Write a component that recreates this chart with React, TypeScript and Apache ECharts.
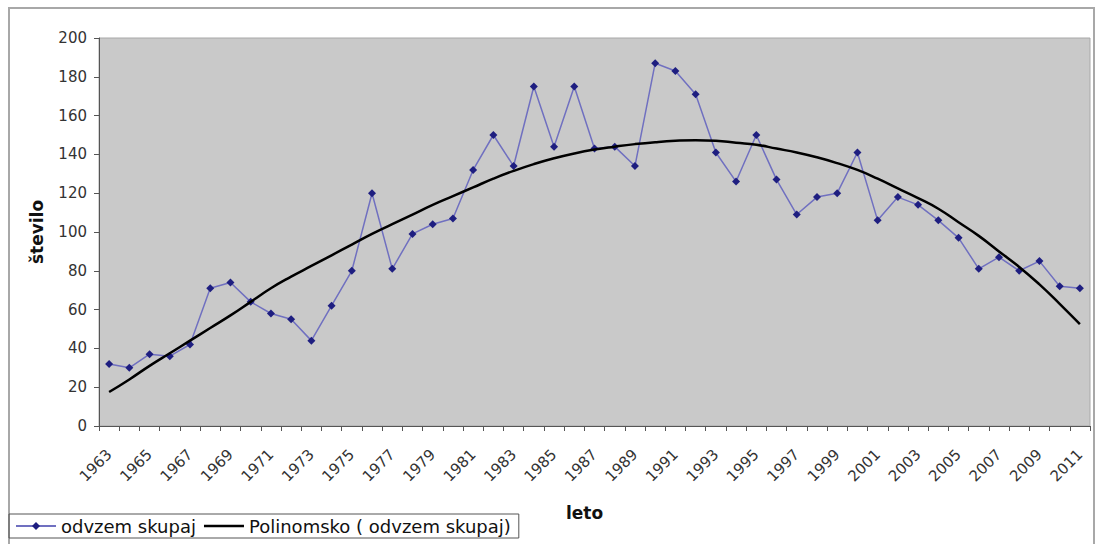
import React, { useEffect, useRef } from "react";
import * as echarts from "echarts";

const years = [
  "1963", "1964", "1965", "1966", "1967", "1968", "1969", "1970", "1971", "1972",
  "1973", "1974", "1975", "1976", "1977", "1978", "1979", "1980", "1981", "1982",
  "1983", "1984", "1985", "1986", "1987", "1988", "1989", "1990", "1991", "1992",
  "1993", "1994", "1995", "1996", "1997", "1998", "1999", "2000", "2001", "2002",
  "2003", "2004", "2005", "2006", "2007", "2008", "2009", "2010", "2011",
];

const odvzemSkupaj = [
  32, 30, 37, 36, 42, 71, 74, 64, 58, 55,
  44, 62, 80, 120, 81, 99, 104, 107, 132, 150,
  134, 175, 144, 175, 143, 144, 134, 187, 183, 171,
  141, 126, 150, 127, 109, 118, 120, 141, 106, 118,
  114, 106, 97, 81, 87, 80, 85, 72, 71,
];

const polinomsko = [
  17.5, 24, 31, 37.5, 44, 50.5, 57, 64, 71, 77,
  82.5, 88, 93.5, 99, 104, 109, 114, 118.5, 123, 127.5,
  131.5, 135, 138, 140.5, 142.5, 144, 145.3, 146.3, 147, 147.3,
  147, 146, 145, 143, 141, 138.5, 135.5, 132, 127.5, 122.5,
  117.5, 112, 105, 98, 90, 82, 73, 63, 52.5,
];

const yTicks = { min: 0, max: 200, interval: 20 };

const FONT = "DejaVu Sans";

export default function App() {
  const ref = useRef<HTMLDivElement>(null);
  useEffect(() => {
    if (!ref.current) return;
    const chart = echarts.init(ref.current, null, { renderer: "svg" });
    chart.setOption({
      animation: false,
      backgroundColor: "#ffffff",
      graphic: [
        {
          type: "rect",
          shape: { x: 9, y: 8, width: 1085, height: 560 },
          style: { fill: "none", stroke: "#a8a8a8", lineWidth: 2 },
          z: -1,
        },
      ],
      grid: {
        left: 99,
        top: 38,
        right: 6,
        bottom: 118,
        show: true,
        backgroundColor: "#c9c9c9",
        borderColor: "#a8a8a8",
        borderWidth: 1,
      },
      legend: {
        left: 9,
        top: 514,
        orient: "horizontal",
        borderColor: "#555555",
        borderWidth: 1,
        padding: [3, 8, 3, 6],
        itemGap: 8,
        itemWidth: 40,
        itemHeight: 10,
        textStyle: { fontFamily: FONT, fontSize: 18, color: "#111111" },
        data: [
          { name: "odvzem skupaj" },
          {
            name: "Polinomsko ( odvzem skupaj)",
            icon: "path://M0,0 M0,10 M0,3.8 L40,3.8 L40,6.2 L0,6.2 Z",
          },
        ],
      },
      xAxis: {
        type: "category",
        data: years,
        boundaryGap: true,
        name: "leto",
        nameLocation: "middle",
        nameGap: 78,
        nameTextStyle: {
          fontFamily: FONT,
          fontSize: 17,
          fontWeight: "bold",
          color: "#111111",
          padding: [0, 20, 0, 0],
        },
        axisLine: { lineStyle: { color: "#555555", width: 1 } },
        axisTick: { show: true, interval: 0, length: 5, lineStyle: { color: "#555555" } },
        axisLabel: {
          interval: 1,
          rotate: 45,
          margin: 26,
          fontFamily: FONT,
          fontSize: 15,
          color: "#333333",
        },
        splitLine: { show: false },
      },
      yAxis: {
        type: "value",
        min: yTicks.min,
        max: yTicks.max,
        interval: yTicks.interval,
        name: "število",
        nameLocation: "middle",
        nameGap: 54,
        nameRotate: 90,
        nameTextStyle: { fontFamily: FONT, fontSize: 17, fontWeight: "bold", color: "#111111" },
        axisLine: { show: true, lineStyle: { color: "#555555", width: 1 } },
        axisTick: { show: true, length: 5, lineStyle: { color: "#555555" } },
        axisLabel: { margin: 12, fontFamily: FONT, fontSize: 15, color: "#333333" },
        splitLine: { show: false },
      },
      series: [
        {
          name: "odvzem skupaj",
          type: "line",
          data: odvzemSkupaj,
          symbol: "diamond",
          symbolSize: 8,
          itemStyle: { color: "#1e1e80" },
          lineStyle: { color: "#7070c0", width: 1.5 },
          z: 2,
        },
        {
          name: "Polinomsko ( odvzem skupaj)",
          type: "line",
          data: polinomsko,
          smooth: true,
          symbol: "none",
          itemStyle: { color: "#000000" },
          lineStyle: { color: "#000000", width: 2.5 },
          z: 3,
        },
      ],
    });
    return () => chart.dispose();
  }, []);
  return (
    <div
      ref={ref}
      style={{ position: "absolute", left: 0, top: 0, width: 1096, height: 544 }}
    />
  );
}
